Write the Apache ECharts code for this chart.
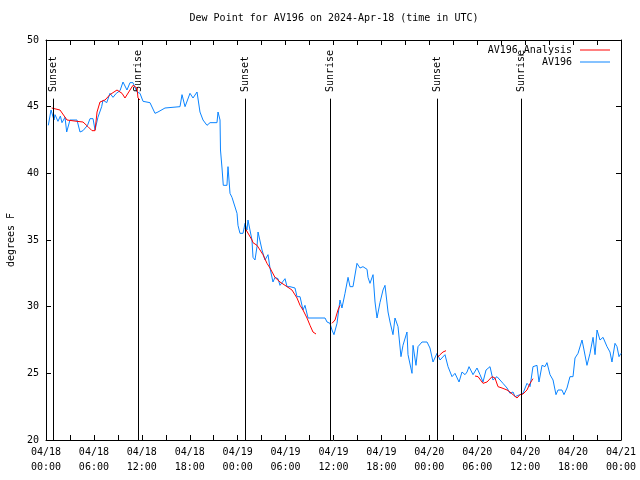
<!DOCTYPE html>
<html><head><meta charset="utf-8">
<script src="https://cdn.jsdelivr.net/npm/echarts@6/dist/echarts.min.js"></script>
<style>html,body{margin:0;padding:0;background:#fff}#c{width:640px;height:480px}</style>
</head><body><div id="c"></div>
<script>
// hours after 2024-04-18 00:00 UTC
const blueHours = [0.29,0.63,1.0,1.13,1.5,1.8,2.0,2.38,2.59,3.0,3.88,4.26,4.63,5.2,5.51,5.89,6.14,6.5,6.97,7.14,7.6,8.01,8.39,8.8,9.27,9.64,10.14,10.52,10.89,11.39,11.77,12.15,12.4,13.02,13.27,13.65,14.02,14.9,15.15,16.78,17.03,17.41,17.66,18.03,18.41,18.91,19.28,19.66,20.16,20.54,21.41,21.54,21.79,21.85,22.04,22.2,22.66,22.79,23.04,23.29,23.92,24.04,24.29,24.67,24.92,25.17,25.29,25.79,25.92,26.17,26.42,26.55,26.8,27.05,27.42,27.8,28.05,28.42,28.67,29.05,29.3,29.93,30.18,30.55,31.18,31.43,31.81,32.18,32.43,32.68,32.81,33.31,34.94,35.19,35.56,35.81,36.06,36.44,36.81,37.06,37.44,37.82,38.07,38.44,38.94,39.32,39.69,40.2,40.32,40.57,40.95,41.2,41.45,41.82,42.2,42.45,42.83,43.08,43.45,43.7,44.08,44.45,44.7,45.2,45.33,45.83,45.96,46.33,46.58,47.08,47.71,48.08,48.46,48.96,49.34,49.96,50.34,50.84,51.21,51.72,52.09,52.47,52.72,52.97,53.47,53.97,54.35,54.72,55.1,55.6,55.97,56.47,56.85,57.22,57.73,58.1,58.48,58.73,58.98,59.35,59.73,60.23,60.61,60.98,61.23,61.48,61.73,62.11,62.48,62.73,63.11,63.49,63.86,64.11,64.61,64.86,65.24,65.61,65.99,66.24,66.62,67.12,67.37,67.74,68.12,68.5,68.75,69.0,69.37,69.75,70.25,70.62,70.87,71.25,71.5,71.75,72.0];
const blueDew = [43.6,44.75,44.0,44.4,43.9,44.3,43.8,44.2,43.1,44.0,44.0,43.1,43.2,43.6,44.1,44.1,43.25,44.2,45.0,45.5,45.3,46.0,45.7,46.0,46.2,46.85,46.25,46.8,46.8,46.1,46.0,45.4,45.3,45.3,45.4,44.5,44.6,44.9,45.0,45.0,45.9,45.0,45.0,46.0,45.65,46.1,44.6,44.0,43.6,43.8,43.8,44.6,44.0,41.75,40.4,39.1,39.1,40.5,38.5,38.2,37.0,36.1,35.5,35.5,36.25,35.75,36.5,35.0,33.7,33.5,34.5,35.6,35.6,34.25,33.5,33.9,32.9,31.85,32.2,32.1,31.6,32.1,31.5,31.5,31.4,30.75,30.75,29.75,30.1,30.1,29.15,29.15,29.15,28.85,28.75,28.25,27.9,28.75,30.5,29.9,31.0,32.2,31.5,31.5,33.25,32.9,33.0,32.8,32.2,31.75,32.4,30.35,29.15,30.3,31.25,31.6,29.6,28.85,27.9,29.15,28.5,26.25,27.1,28.1,26.4,25.0,27.1,25.6,27.0,27.35,27.35,26.9,25.85,26.5,26.0,26.4,25.5,24.75,25.0,24.35,25.1,24.9,25.1,25.5,24.9,25.4,24.9,24.35,25.25,25.5,24.5,24.75,24.5,24.25,23.9,23.5,23.6,23.25,23.15,23.4,23.5,24.25,24.0,25.5,25.4,25.6,24.35,25.6,25.5,25.8,24.9,24.5,23.4,23.75,23.75,23.4,23.9,24.75,24.75,26.15,26.5,27.5,26.75,25.6,26.5,27.7,26.4,28.25,27.5,27.7,27.0,26.6,25.85,27.25,27.0,26.25,26.5];

const redHours = [0.71,1.75,2.0,2.63,3.88,4.63,5.26,5.76,6.14,6.39,6.76,7.39,8.01,8.89,9.52,9.89,10.52,10.89,11.39,11.52,11.77,12.0,
  24.92,25.79,25.92,26.42,26.8,27.17,27.67,28.05,28.67,29.3,30.18,30.8,31.43,31.81,32.18,32.68,33.06,33.43,33.81,34.0,
  35.81,36.19,36.56,36.81,37.0,
  48.96,49.34,49.71,50.09,50.3,
  53.72,54.1,54.72,55.22,55.85,56.22,56.6,57.1,57.73,58.1,58.48,58.98,59.35,59.73,60.23,60.61,60.98];
const redDew = [44.9,44.75,44.75,44.0,43.9,43.85,43.5,43.2,43.2,44.6,45.35,45.5,45.9,46.25,46.0,45.65,46.25,46.6,46.4,45.65,45.5,null,
  35.9,35.0,34.8,34.6,34.25,33.9,33.25,32.9,32.2,31.85,31.5,31.25,30.65,30.1,29.75,29.15,28.6,28.1,27.95,null,
  28.75,29.0,29.75,30.1,null,
  26.15,26.4,26.6,26.7,null,
  24.8,24.75,24.25,24.35,24.75,24.65,24.0,23.9,23.75,23.6,23.4,23.15,23.4,23.45,23.75,24.25,24.6];

const sunHours = [0.91, 11.56, 24.96, 35.6, 49.0, 59.52];
const sunNames = ['Sunset','Sunrise','Sunset','Sunrise','Sunset','Sunrise'];

const xMin = 0, xMax = 72, xTickStep = 3;
const yMin = 20, yMax = 50, yTickStep = 5;

const FONT = "'DejaVu Sans Mono', monospace";
const chart = echarts.init(document.getElementById('c'), null, {renderer: 'canvas'});

function xLabel(h) {
  if (h % 6 !== 0) return '';
  const day = 18 + Math.floor(h / 24);
  const hr = h % 24;
  return '04/' + day + '\n' + String(hr).padStart(2, '0') + ':00';
}

const lineTop = 45.6, labelAnchor = 46.1;

chart.setOption({
  animation: false,
  backgroundColor: '#fff',
  textStyle: {fontFamily: FONT},
  title: {
    text: 'Dew Point for AV196 on 2024-Apr-18 (time in UTC)',
    left: 334, top: 13, textAlign: 'center', padding: 0,
    textStyle: {fontFamily: FONT, fontSize: 10, fontWeight: 'normal', color: '#000'}
  },
  legend: {
    orient: 'vertical', right: 30, top: 45, align: 'right', padding: 0,
    itemWidth: 30, itemHeight: 1, itemGap: 2, icon: 'rect',
    textStyle: {fontFamily: FONT, fontSize: 10, color: '#000', lineHeight: 10, padding: [0, 3, 0, 0]},
    data: ['AV196_Analysis', 'AV196']
  },
  grid: {left: 46, right: 19, top: 40, bottom: 40, containLabel: false, outerBoundsMode: 'none'},
  xAxis: [{
    type: 'value', min: xMin, max: xMax, interval: xTickStep,
    axisLine: {show: true, onZero: false, lineStyle: {color: '#000', width: 1}},
    axisTick: {show: true, inside: true, length: 5, lineStyle: {color: '#000'}},
    axisLabel: {formatter: xLabel, fontFamily: FONT, fontSize: 10, color: '#000', lineHeight: 15, margin: 5, showMinLabel: true, showMaxLabel: true},
    splitLine: {show: false}
  }, {
    type: 'value', position: 'top', min: xMin, max: xMax, interval: xTickStep,
    axisLine: {show: true, onZero: false, lineStyle: {color: '#000', width: 1}},
    axisTick: {show: true, inside: true, length: 5, lineStyle: {color: '#000'}},
    axisLabel: {show: false}, splitLine: {show: false}
  }],
  yAxis: [{
    type: 'value', min: yMin, max: yMax, interval: yTickStep,
    name: 'degrees F', nameLocation: 'middle', nameGap: 30, nameRotate: 90,
    nameTextStyle: {fontFamily: FONT, fontSize: 10, color: '#000'},
    axisLine: {show: true, onZero: false, lineStyle: {color: '#000', width: 1}},
    axisTick: {show: true, inside: true, length: 5, lineStyle: {color: '#000'}},
    axisLabel: {fontFamily: FONT, fontSize: 10, color: '#000', margin: 7},
    splitLine: {show: false}
  }, {
    type: 'value', position: 'right', min: yMin, max: yMax, interval: yTickStep,
    axisLine: {show: true, onZero: false, lineStyle: {color: '#000', width: 1}},
    axisTick: {show: true, inside: true, length: 5, lineStyle: {color: '#000'}},
    axisLabel: {show: false}, splitLine: {show: false}
  }],
  series: [{
    name: 'AV196_Analysis', type: 'line', xAxisIndex: 0, yAxisIndex: 0,
    data: redHours.map((h, i) => [h, redDew[i] === null ? '-' : redDew[i]]),
    showSymbol: false, symbol: 'none', connectNulls: false,
    lineStyle: {color: '#ff0000', width: 1}, itemStyle: {color: '#ff0000'}, z: 3
  }, {
    name: 'AV196', type: 'line', xAxisIndex: 0, yAxisIndex: 0,
    data: blueHours.map((h, i) => [h, blueDew[i]]),
    showSymbol: false, symbol: 'none',
    lineStyle: {color: '#0a84ff', width: 1}, itemStyle: {color: '#0a84ff'}, z: 2,
    markLine: {
      silent: true, symbol: ['none', 'none'],
      lineStyle: {color: '#000', width: 1, type: 'solid'},
      label: {show: false},
      data: sunHours.map(h => [{coord: [h, yMin]}, {coord: [h, lineTop]}])
    }
  }, {
    name: 'sun', type: 'scatter', xAxisIndex: 0, yAxisIndex: 0,
    symbolSize: 1, itemStyle: {color: 'rgba(0,0,0,0)'}, silent: true,
    data: sunHours.map(h => [h, labelAnchor]),
    label: {
      show: true, position: 'inside', rotate: 90, align: 'left', verticalAlign: 'middle',
      fontFamily: FONT, fontSize: 10, color: '#000', textBorderWidth: 0, opacity: 1,
      formatter: p => sunNames[p.dataIndex]
    }
  }]
});
</script></body></html>
